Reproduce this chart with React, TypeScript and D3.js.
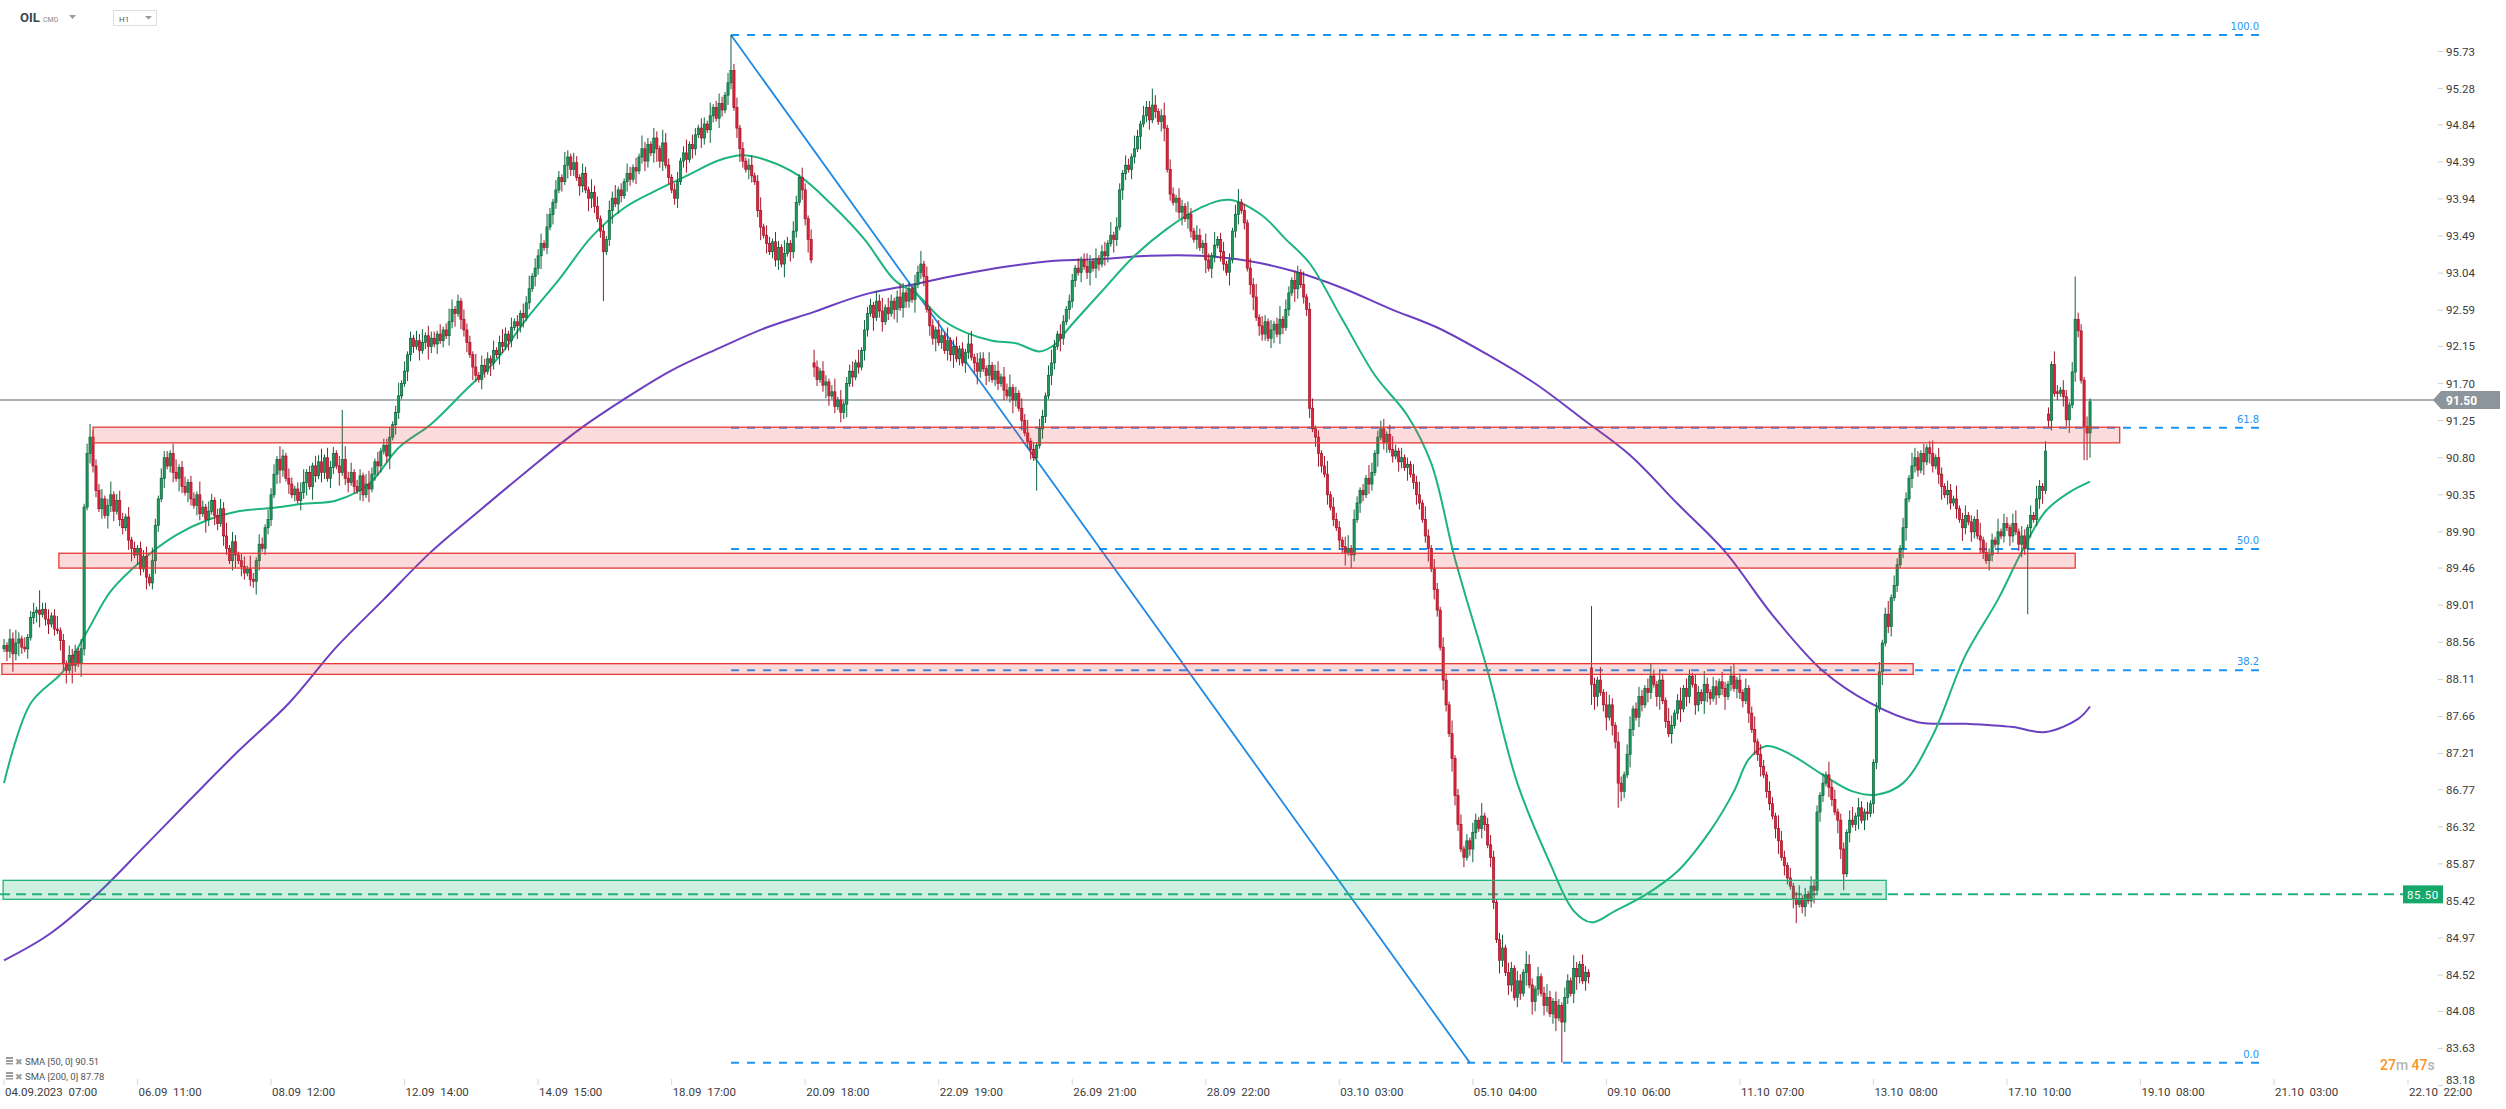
import React from 'react';
import * as d3 from 'd3';

const W = 2506;
const H = 1109;

// ---- hourly closes (open = previous close unless listed in openGaps) ----
const closes: number[] = [
  // 04.09 07:00
  88.52, 88.45, 88.60, 88.42, 88.55, 88.60, 88.50, 88.48, 88.62, 88.86, 88.92, 88.95, 88.90, 88.96, 88.84, 88.78, 88.88, 88.72, 88.70, 88.58, 88.30, 88.22, 88.40, 88.28, 88.45, 88.30, 88.48, 90.20, 90.85, 91.05, 90.70, 90.40, 90.18, 90.30, 90.10, 90.22, 90.35, 90.15, 90.28, 90.05, 89.95, 90.08, 89.80, 89.70, 89.62,
  // 06.09 11:00
  89.70, 89.45, 89.60, 89.35, 89.28, 89.55, 89.98, 90.30, 90.55, 90.80, 90.70, 90.85, 90.62, 90.55, 90.68, 90.45, 90.38, 90.50, 90.30, 90.22, 90.35, 90.12, 90.20, 90.05, 90.15, 90.28, 90.10, 90.00, 90.18, 89.85, 89.70, 89.55, 89.78, 89.62, 89.55, 89.48, 89.40, 89.45, 89.32, 89.30, 89.55, 89.75, 89.70, 89.95, 90.05,
  // 08.09 12:00
  90.35, 90.60, 90.78, 90.65, 90.82, 90.55, 90.48, 90.35, 90.42, 90.28, 90.38, 90.50, 90.62, 90.45, 90.70, 90.58, 90.75, 90.62, 90.80, 90.55, 90.68, 90.85, 90.70, 90.62, 90.78, 90.55, 90.50, 90.62, 90.45, 90.40, 90.58, 90.35, 90.48, 90.42, 90.60, 90.75, 90.70, 90.88, 90.95, 90.82, 91.05, 91.20, 91.35, 91.55, 91.70,
  // 12.09 14:00
  91.85, 92.05, 92.25, 92.15, 92.22, 92.10, 92.20, 92.28, 92.15, 92.25, 92.18, 92.30, 92.22, 92.35, 92.28, 92.45, 92.60, 92.55, 92.70, 92.48, 92.35, 92.20, 92.05, 91.90, 91.80, 91.75, 91.92, 91.85, 92.00, 91.95, 92.10, 92.05, 92.20, 92.15, 92.30, 92.22, 92.38, 92.45, 92.40, 92.55, 92.50, 92.68, 92.85, 93.00, 93.10,
  // 14.09 15:00
  93.25, 93.40, 93.35, 93.60, 93.75, 93.90, 94.05, 94.20, 94.15, 94.35, 94.45, 94.30, 94.38, 94.20, 94.10, 94.25, 94.05, 93.95, 94.02, 93.85, 93.70, 93.55, 93.30, 93.45, 93.80, 93.95, 93.88, 94.05, 93.98, 94.15, 94.25, 94.18, 94.32, 94.28, 94.45, 94.55, 94.40, 94.60, 94.50, 94.68, 94.55, 94.40, 94.62, 94.35, 94.20,
  // 18.09 17:00
  94.05, 93.95, 94.15, 94.40, 94.50, 94.42, 94.60, 94.55, 94.72, 94.80, 94.68, 94.85, 94.78, 94.95, 95.05, 94.92, 95.10, 95.02, 95.20, 95.35, 95.50, 95.05, 94.80, 94.55, 94.40, 94.30, 94.35, 94.22, 94.15, 93.80, 93.60, 93.50, 93.40, 93.30, 93.42, 93.20, 93.35, 93.15, 93.28, 93.40, 93.30, 93.55, 93.90, 94.20, 94.05,
  // 20.09 18:00
  93.70, 93.45, 93.20, 91.90, 91.75, 91.85, 91.68, 91.72, 91.55, 91.60, 91.42, 91.50, 91.35, 91.45, 91.70, 91.85, 91.78, 91.95, 91.90, 92.10, 92.35, 92.55, 92.65, 92.50, 92.70, 92.58, 92.45, 92.62, 92.55, 92.70, 92.60, 92.75, 92.62, 92.80, 92.70, 92.85, 92.72, 92.90, 93.05, 93.15, 93.00, 92.60, 92.40, 92.25, 92.35,
  // 22.09 19:00
  92.20, 92.28, 92.10, 92.22, 92.05, 92.15, 92.00, 92.12, 91.95, 92.08, 92.18, 92.02, 91.95, 91.85, 92.00, 91.88, 91.80, 91.92, 91.75, 91.85, 91.70, 91.78, 91.62, 91.55, 91.65, 91.50, 91.58, 91.40, 91.25, 91.10, 91.00, 90.90, 90.80, 90.95, 91.15, 91.30, 91.55, 91.80, 91.95, 92.15, 92.30, 92.25, 92.45, 92.60, 92.70,
  // 26.09 21:00
  92.95, 93.10, 93.05, 93.20, 93.12, 93.05, 93.18, 93.10, 93.22, 93.15, 93.30, 93.25, 93.40, 93.50, 93.45, 93.60, 94.05, 94.25, 94.35, 94.30, 94.45, 94.55, 94.70, 94.85, 94.95, 95.05, 94.90, 95.08, 95.00, 94.88, 94.95, 94.80, 94.30, 94.00, 93.90, 93.95, 93.78, 93.85, 93.70, 93.75, 93.55, 93.45, 93.50, 93.35, 93.40,
  // 28.09 22:00
  93.20, 93.10, 93.25, 93.38, 93.45, 93.30, 93.15, 93.05, 93.20, 93.55, 93.75, 93.90, 93.80, 93.65, 93.10, 92.90, 92.75, 92.50, 92.40, 92.30, 92.45, 92.25, 92.35, 92.42, 92.30, 92.48, 92.38, 92.60, 92.80, 92.95, 92.85, 93.05, 92.90, 92.75, 92.60, 91.40, 91.15, 91.05, 90.85, 90.70, 90.60, 90.35, 90.20, 90.05, 89.95,
  // 03.10 03:00
  89.80, 89.72, 89.65, 89.70, 89.62, 90.05, 90.25, 90.40, 90.35, 90.55, 90.48, 90.62, 90.85, 91.05, 91.15, 90.98, 91.08, 90.90, 90.82, 90.88, 90.75, 90.80, 90.68, 90.72, 90.60, 90.50, 90.35, 90.25, 90.05, 89.85, 89.70, 89.45, 89.20, 88.95, 88.50, 88.10, 87.80, 87.45, 87.15, 86.70, 86.35, 86.05, 85.95, 86.15, 86.05,
  // 05.10 04:00
  86.25, 86.40, 86.30, 86.45, 86.35, 86.10, 85.95, 85.40, 84.95, 84.70, 84.85, 84.55, 84.40, 84.60, 84.25, 84.45, 84.30, 84.55, 84.65, 84.40, 84.20, 84.35, 84.50, 84.30, 84.15, 84.25, 84.05, 84.20, 84.00, 84.15, 83.95, 84.25, 84.45, 84.30, 84.60, 84.50, 84.65, 84.45, 84.55, 84.50, 88.05, 87.90, 88.10, 87.95, 87.80,
  // 09.10 06:00
  87.65, 87.80, 87.55, 87.35, 86.85, 86.75, 86.95, 87.20, 87.50, 87.75, 87.65, 87.90, 87.80, 88.00, 87.95, 88.15, 88.05, 87.90, 88.10, 87.85, 87.60, 87.45, 87.55, 87.70, 87.85, 87.75, 88.00, 87.90, 88.15, 88.05, 87.80, 87.95, 87.85, 88.05, 87.95, 87.88, 88.02, 87.92, 88.08, 88.00, 87.90, 88.05, 88.15, 88.00, 88.10,
  // 11.10 07:00
  87.95, 87.85, 88.00, 87.70, 87.50, 87.35, 87.20, 87.05, 86.95, 86.75, 86.60, 86.45, 86.30, 86.15, 85.95, 85.85, 85.70, 85.60, 85.45, 85.38, 85.45, 85.35, 85.50, 85.42, 85.60, 85.55, 86.50, 86.70, 86.85, 86.95, 86.80, 86.65, 86.50, 86.40, 86.05, 85.75, 86.25, 86.40, 86.35, 86.45, 86.55, 86.40, 86.50, 86.48, 86.60,
  // 13.10 08:00
  87.10, 87.75, 88.20, 88.55, 88.90, 88.75, 89.10, 89.25, 89.50, 89.70, 89.95, 90.30, 90.55, 90.70, 90.80, 90.65, 90.85, 90.75, 90.92, 90.85, 90.70, 90.80, 90.60, 90.45, 90.35, 90.40, 90.25, 90.30, 90.18, 90.05, 89.95, 90.10, 90.02, 89.90, 90.05, 89.85, 89.80, 89.65, 89.55, 89.62, 89.80, 89.75, 89.90, 89.85, 90.00,
  // 17.10 10:00
  89.95, 89.85, 90.00, 89.90, 89.75, 89.85, 89.70, 89.95, 90.10, 90.05, 90.30, 90.45, 90.40, 90.88, 91.25, 91.93, 91.58, 91.58, 91.62, 91.54, 91.26, 91.44, 91.84, 92.48, 92.34, 91.74, 91.18, 91.10, 91.48,
];

// candles whose open differs from the previous close (session gaps)
const openGaps: [number, number][] = [
  [0, 88.48], [273, 91.95], [535, 88.25], [689, 91.33], [692, 91.60], [699, 92.48],
];

// wick lengths, one digit per candle, unit 0.04
const wickUp = [
  '21324 21312 31522 31241 21322 13134 22231 24123 21312',
  '12231 42132 21341 23122 14213 21232 41321 23142 13213',
  '23142 13212 34121 32413 22131 42312 21342 13122 31241',
  '31213 24132 21312 43121 32214 13221 31242 13121 32413',
  '23142 13214 21321 32142 31213 24121 32131 42213 21432',
  '12312 41321 32141 23213 42312 12312 41321 32142 13213',
  '21342 13212 41312 23141 32213 24132 12431 21324 13121',
  '32141 23121 34132 21412 31324 12132 41213 21342 13212',
  '21312 42131 23141 32132 14213 22131 24132 13214 21321',
  '32141 23121 34121 32413 21312 41321 32141 23121 34132',
  '21341 32121 43122 31342 13121 32414 21321 32141 23121',
  '32141 23212 41321 32143 21312 42132 13214 21321 32141',
  '43213 21341 23213 42132 14312 41321 32142 13213 21341',
  '21312 41321 32143 21312 41213 22131 42312 21341 32131',
  '12312 41321 32143 21312 41321 32141 23121 34132 21413',
  '21341 32131 42132 14213 21312 2131',
].join('').replace(/\s/g, '');

const wickDn = [
  '13212 42131 23412 31213 24132 14213 22131 42312 21341',
  '32131 24213 12314 21321 32142 13213 21341 32121 43122',
  '21342 13121 32414 21321 32141 23121 32141 23212 41321',
  '13221 31242 13121 32413 23142 13214 21321 32142 31213',
  '24121 32131 42213 21432 12312 41321 32141 23213 42312',
  '12312 41321 32142 13213 21342 13212 41312 23141 32213',
  '24132 12431 21324 13121 32141 23121 34132 21412 31324',
  '12132 41213 21342 13212 21312 42131 23141 32132 14213',
  '22131 24132 13214 21321 32141 23121 34121 32413 21312',
  '41321 32141 23121 34132 21341 32121 43122 31342 13121',
  '32414 21321 32141 23121 32141 23212 41321 32143 21312',
  '42132 13214 21321 32141 43213 21341 23213 42132 14312',
  '41321 32142 13213 21341 21312 41321 32143 21312 41213',
  '22131 42312 21341 32131 12312 41321 32143 21312 41321',
  '32141 23121 34132 21413 21341 32131 42132 14213 21312',
  '13212 42131 23412 31213 24132 1421',
].join('').replace(/\s/g, '');

// notable wick extremes: [index, high, low]
const extremes: [number, number | null, number | null][] = [
  [3, null, 88.2], [12, 89.19, null], [23, null, 88.06], [29, 91.15, null], [48, null, 89.2],
  [84, null, 89.22], [114, 91.38, null], [202, null, 92.7], [245, 95.93, null], [309, 93.3, null],
  [348, null, 90.4], [387, 95.28, null], [416, 94.05, null], [464, 91.25, null], [525, null, 83.46],
  [535, 89.0, 87.8], [544, null, 86.55], [604, null, 85.15], [620, null, 85.55], [682, null, 88.9],
  [698, 93.0, null], [701, null, 90.77], [702, null, 90.77], [703, null, 90.8],
];

// moving averages: [candle index, value]
const sma50: [number, number][] = [
  [0, 86.85], [9, 87.82], [20, 88.21], [28, 88.69], [36, 89.18], [47, 89.57], [58, 89.86], [69, 90.05],
  [79, 90.15], [90, 90.19], [101, 90.24], [112, 90.28], [123, 90.48], [133, 90.92], [144, 91.21],
  [155, 91.6], [166, 91.99], [176, 92.48], [187, 92.96], [198, 93.48], [209, 93.83], [219, 94.03],
  [230, 94.22], [241, 94.41], [249, 94.47], [257, 94.41], [268, 94.22], [279, 93.87], [290, 93.45],
  [300, 92.96], [308, 92.77], [316, 92.48], [324, 92.32], [333, 92.22], [341, 92.19], [349, 92.09],
  [354, 92.17], [359, 92.38], [370, 92.82], [381, 93.25], [392, 93.58], [403, 93.83], [413, 93.93],
  [424, 93.74], [432, 93.45], [440, 93.16], [451, 92.48], [462, 91.8], [473, 91.31], [481, 90.73],
  [489, 89.57], [500, 88.21], [510, 86.85], [521, 85.88], [529, 85.3], [535, 85.16], [543, 85.3],
  [553, 85.49], [564, 85.78], [575, 86.27], [583, 86.75], [588, 87.14], [594, 87.3], [602, 87.2],
  [613, 86.95], [623, 86.75], [631, 86.71], [640, 86.85], [650, 87.43], [661, 88.4], [672, 89.08],
  [680, 89.66], [688, 90.15], [696, 90.38], [703, 90.51],
];
const sma200: [number, number][] = [
  [0, 84.7], [15, 85.01], [31, 85.49], [47, 86.07], [63, 86.66], [79, 87.24], [96, 87.82], [112, 88.5],
  [128, 89.08], [144, 89.66], [160, 90.15], [176, 90.63], [193, 91.12], [209, 91.51], [225, 91.86],
  [241, 92.13], [257, 92.38], [273, 92.57], [289, 92.77], [306, 92.9], [322, 93.02], [338, 93.12],
  [354, 93.19], [370, 93.21], [386, 93.25], [403, 93.25], [419, 93.19], [435, 93.06], [451, 92.86],
  [467, 92.61], [483, 92.38], [500, 92.05], [516, 91.7], [532, 91.27], [548, 90.83], [564, 90.24],
  [580, 89.66], [596, 88.89], [613, 88.21], [629, 87.82], [645, 87.59], [661, 87.57], [677, 87.53],
  [688, 87.47], [699, 87.63], [703, 87.78],
];

const priceTicks = [
  '95.73', '95.28', '94.84', '94.39', '93.94', '93.49', '93.04', '92.59', '92.15', '91.70',
  '91.25', '90.80', '90.35', '89.90', '89.46', '89.01', '88.56', '88.11', '87.66', '87.21',
  '86.77', '86.32', '85.87', '85.42', '84.97', '84.52', '84.08', '83.63', '83.18',
];
const dateLabels = [
  '04.09.2023  07:00', '06.09  11:00', '08.09  12:00', '12.09  14:00', '14.09  15:00', '18.09  17:00',
  '20.09  18:00', '22.09  19:00', '26.09  21:00', '28.09  22:00', '03.10  03:00', '05.10  04:00',
  '09.10  06:00', '11.10  07:00', '13.10  08:00', '17.10  10:00', '19.10  08:00', '21.10  03:00',
];
const dateStep = 45;
const axisEndLabel = '22.10  22:00';

const fibStartIdx = 245;
const fibEndIdx = 494;
const fibRightIdx = 760;
const fibHigh = 95.93;
const fibLow = 83.455;
const fibLevels = [100, 61.8, 50, 38.2, 0];
const fibTexts = ['100.0', '61.8', '50.0', '38.2', '0.0'];

// zones: [startIdx, endIdx, low, high]
const redZones: [number, number, number, number][] = [
  [30, 713, 90.98, 91.17],
  [18.5, 698, 89.46, 89.64],
  [-0.7, 643.4, 88.17, 88.3],
];
const greenZone: [number, number, number, number] = [-0.3, 634.3, 85.44, 85.67];

const lastPrice = 91.5;
const supportLevel = 85.5;
const sma50Last = '90.51';
const sma200Last = '87.78';

type Candle = { i: number; o: number; c: number; h: number; l: number };

function buildCandles(): Candle[] {
  const gaps = new Map(openGaps);
  const ext = new Map(extremes.map((e) => [e[0], e]));
  return closes.map((c, i) => {
    const o = gaps.has(i) ? (gaps.get(i) as number) : closes[i - 1];
    let h = Math.max(o, c) + Number(wickUp[i] || '0') * 0.04;
    let l = Math.min(o, c) - Number(wickDn[i] || '0') * 0.04;
    const e = ext.get(i);
    if (e) {
      if (e[1] !== null) h = Math.max(h, e[1]);
      if (e[2] !== null) l = Math.min(l, e[2]);
    }
    return { i, o, c, h, l };
  });
}

const FONT = 'Roboto, Arial, sans-serif';

export default function App() {
  const x = d3.scaleLinear().domain([0, 765]).range([4, 2274]);
  const y = d3.scaleLinear().domain([83.18, 95.73]).range([1085.5, 51.5]);
  const candles = buildCandles();

  const line = d3
    .line<[number, number]>()
    .x((d) => x(d[0]))
    .y((d) => y(d[1]))
    .curve(d3.curveCatmullRom.alpha(0.5));

  const up = { fill: '#1c9a5e', stroke: '#0e643c' };
  const dn = { fill: '#e2223a', stroke: '#a11528' };
  const bw = 2.2;

  const fibX0 = x(fibStartIdx);
  const fibX1 = x(fibRightIdx);
  const fibPrice = (lv: number) => fibLow + ((fibHigh - fibLow) * lv) / 100;

  const lastY = y(lastPrice);
  const supY = y(supportLevel);

  return (
    <svg
      width={W}
      height={H}
      style={{ position: 'absolute', left: 0, top: 0, background: '#fff', fontFamily: FONT }}
    >
      {/* last price line */}
      <line x1={0} x2={2436} y1={lastY} y2={lastY} stroke="#8d979e" strokeWidth={1.3} />

      {/* fib lines */}
      {fibLevels.map((lv, k) => {
        const yy = y(fibPrice(lv));
        return (
          <g key={'fib' + k}>
            <line x1={fibX0} x2={fibX1} y1={yy} y2={yy} stroke="#1e94f5" strokeWidth={2} strokeDasharray="8 8" />
            <text x={fibX1} y={yy - 5} fontSize={10} fill="#1e94f5" textAnchor="end" fontFamily="DejaVu Sans, sans-serif">
              {fibTexts[k]}
            </text>
          </g>
        );
      })}
      <line
        x1={x(fibStartIdx)}
        y1={y(fibHigh)}
        x2={x(fibEndIdx)}
        y2={y(fibLow)}
        stroke="#1e88e5"
        strokeWidth={1.8}
      />

      {/* support dashed */}
      <line x1={0} x2={2403} y1={supY} y2={supY} stroke="#23b37a" strokeWidth={2} strokeDasharray="10 6" />

      {/* SMAs */}
      <path d={line(sma200) || ''} fill="none" stroke="#6a3fc2" strokeWidth={2} />
      <path d={line(sma50) || ''} fill="none" stroke="#1cb57b" strokeWidth={2} />

      {/* candles */}
      {candles.map((d) => {
        const col = d.c >= d.o ? up : dn;
        const cx = x(d.i);
        const top = y(Math.max(d.o, d.c));
        const bot = y(Math.min(d.o, d.c));
        return (
          <g key={d.i}>
            <line x1={cx} x2={cx} y1={y(d.h)} y2={y(d.l)} stroke={col.stroke} strokeWidth={1} />
            <rect
              x={cx - bw / 2}
              y={top}
              width={bw}
              height={Math.max(bot - top, 1)}
              fill={col.fill}
              stroke={col.stroke}
              strokeWidth={0.7}
            />
          </g>
        );
      })}

      {/* zones */}
      {redZones.map((z, k) => (
        <rect
          key={'z' + k}
          x={x(z[0])}
          y={y(z[3])}
          width={x(z[1]) - x(z[0])}
          height={y(z[2]) - y(z[3])}
          fill="rgba(236,64,64,0.19)"
          stroke="#e53935"
          strokeWidth={1.3}
        />
      ))}
      <rect
        x={x(greenZone[0])}
        y={y(greenZone[3])}
        width={x(greenZone[1]) - x(greenZone[0])}
        height={y(greenZone[2]) - y(greenZone[3])}
        fill="rgba(30,180,120,0.22)"
        stroke="#23b37a"
        strokeWidth={1.3}
      />

      {/* price axis */}
      {priceTicks.map((t) => {
        const yy = y(+t);
        const ty = Math.min(yy, 1080);
        return (
          <g key={t}>
            <line x1={2438} x2={2443} y1={yy} y2={yy} stroke="#d0d0d0" strokeWidth={1} />
            <text x={2446} y={ty + 4} fontSize={11.5} fill="#3c3c3c">
              {t}
            </text>
          </g>
        );
      })}

      {/* last price tag */}
      <path
        d={`M2433,${lastY} L2441,${lastY - 9} L2500,${lastY - 9} L2500,${lastY + 9} L2441,${lastY + 9} Z`}
        fill="#8b959b"
      />
      <text x={2446} y={lastY + 4.5} fontSize={12} fontWeight={700} fill="#fff">
        {lastPrice.toFixed(2)}
      </text>

      {/* support tag */}
      <rect x={2403} y={supY - 9} width={40} height={18} fill="#14a86b" />
      <text x={2407} y={supY + 4.5} fontSize={11.5} fill="#fff" letterSpacing={0.6}>
        {supportLevel.toFixed(2)}
      </text>

      {/* date axis */}
      {dateLabels.map((t, k) => {
        const xx = x(k * dateStep);
        return (
          <g key={t}>
            <line x1={xx} x2={xx} y1={1079} y2={1085} stroke="#d8d8d8" strokeWidth={1} />
            <text x={xx + 1} y={1096} fontSize={11.5} fill="#3c3c3c" style={{ whiteSpace: 'pre' }}>
              {t}
            </text>
          </g>
        );
      })}
      <line x1={2408} x2={2408} y1={1079} y2={1085} stroke="#d8d8d8" strokeWidth={1} />
      <text x={2409} y={1096} fontSize={11.5} fill="#3c3c3c" style={{ whiteSpace: 'pre' }}>
        {axisEndLabel}
      </text>

      {/* countdown */}
      <text x={2380} y={1070} fontSize={14} fontWeight={500}>
        <tspan fill="#f7931e">27</tspan>
        <tspan fill="#b5b5b5">m </tspan>
        <tspan fill="#f7931e">47</tspan>
        <tspan fill="#b5b5b5">s</tspan>
      </text>

      {/* header */}
      <text x={20} y={22} fontSize={13} fontWeight={700} fill="#3a4650">
        OIL
      </text>
      <text x={43} y={22} fontSize={7} fill="#8a8a8a">
        CMD
      </text>
      <path d="M69,15 L76,15 L72.5,19 Z" fill="#9a9a9a" />
      <rect x={113.5} y={10.5} width={43} height={15} fill="#fff" stroke="#dddddd" strokeWidth={1} />
      <text x={119} y={22} fontSize={8} fill="#555">
        H1
      </text>
      <path d="M145,16 L152,16 L148.5,19.5 Z" fill="#9a9a9a" />

      {/* legend */}
      {[
        ['SMA [50, 0] ', sma50Last],
        ['SMA [200, 0] ', sma200Last],
      ].map((row, k) => {
        const yy = 1061 + k * 15;
        return (
          <g key={'lg' + k}>
            <rect x={6} y={yy - 4} width={7} height={2} fill="#9a9a9a" />
            <rect x={6} y={yy - 1} width={7} height={2} fill="#9a9a9a" />
            <rect x={6} y={yy + 2} width={7} height={1.5} fill="#9a9a9a" />
            <text x={15} y={yy + 3.5} fontSize={9} fill="#9a9a9a">
              ✖
            </text>
            <text x={25} y={yy + 3.5} fontSize={9.5} fill="#555">
              {row[0] + row[1]}
            </text>
          </g>
        );
      })}
    </svg>
  );
}
